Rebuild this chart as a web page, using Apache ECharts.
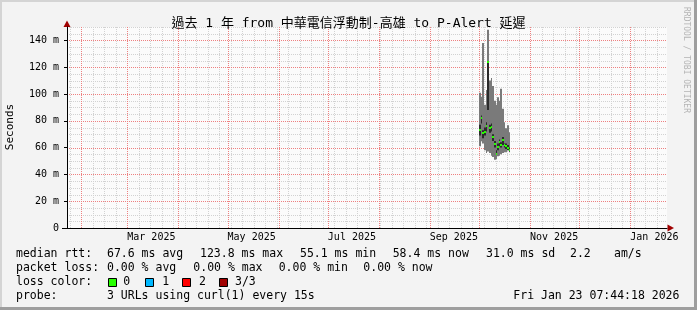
<!DOCTYPE html>
<html><head><meta charset="utf-8">
<script src="https://cdn.jsdelivr.net/npm/echarts@6/dist/echarts.min.js"></script>
<style>html,body{margin:0;padding:0;background:#f3f3f3}#c{width:697px;height:310px}</style>
</head><body><div id="c"></div>
<script>
// ---------------- data ----------------
const titleText = '過去 1 年 from 中華電信浮動制-高雄 to P-Alert 延遲';
const yAxisName = 'Seconds';
const sideText = 'RRDTOOL / TOBI OETIKER';
const monthNames = ['Jan','Feb','Mar','Apr','May','Jun','Jul','Aug','Sep','Oct','Nov','Dec'];
const yMajorTicks = [0, 20, 40, 60, 80, 100, 120, 140];
const yMinorStep = 5;
const yMax = 150;
const startTime = '2025-01-23T07:44:18';
const endTime = '2026-01-23T07:44:18';
const firstWeekLine = '2025-01-25T00:00:00';
const firstMonthLine = '2025-02-01T00:00:00';
const dataStart = '2025-10-01T00:00:00';
const stepHours = 24;
// smoke (ms) per column, from Oct 1 2025
const smokeMax = [101, 98, 138, 92, 103, 148, 110, 112, 106, 95, 92, 97.5, 95, 104, 89, 79, 74.5, 76.7, 71.5];
const smokeMin = [61, 65, 63, 58, 56, 57, 56, 54, 53, 51, 51.5, 53.6, 54, 55, 56, 56.6, 56.6, 58, 56.6];
const darkHi   = [77, 84, 73, 75, 79, 124, 77, 78, 70, 65, 58, 63, 66, 64, 68, 63, 63, 62, 60];
const darkLo   = [69, 78, 67, 69, 72, 88, 71, 72, 65, 60, 55, 58, 61, 60, 62, 60, 59, 58, 57];
const medianRtt = [73, 82, 70.7, 72, 76, 123.8, 74.5, 75.4, 68, 63, 55.1, 60.5, 64, 62, 65.5, 62, 61, 60, 58.4];
// legend
const medianStats = ['median rtt:', '67.6 ms avg', '123.8 ms max', '55.1 ms min', '58.4 ms now', '31.0 ms sd', '2.2', 'am/s'];
const lossStats = ['packet loss:', '0.00 % avg', '0.00 % max', '0.00 % min', '0.00 % now'];
const lossColorLabels = ['0', '1', '2', '3/3'];
const lossColors = ['#26ff00', '#00b8ff', '#ff0000', '#a00000'];
const probeText = ['probe:', '3 URLs using curl(1) every 15s'];
const stampText = 'Fri Jan 23 07:44:18 2026';

// ---------------- build ----------------
const MONO = "'DejaVu Sans Mono', 'Noto Sans CJK TC', monospace";
const T0 = new Date(startTime).getTime();
const T1 = new Date(endTime).getTime();
const D0 = new Date(dataStart).getTime();
const STEP = stepHours * 3600e3;
const times = smokeMax.map((_, i) => D0 + i * STEP);

const smokeData = times.map((t, i) => [t, smokeMin[i], smokeMax[i]]);
const darkData = times.map((t, i) => [t, darkLo[i], darkHi[i]]);
const medData = times.map((t, i) => [t, medianRtt[i]]);

const weekTicks = [];
for (let t = new Date(firstWeekLine); t.getTime() < T1; t.setDate(t.getDate() + 7)) weekTicks.push(t.getTime());
const monthTicks = [];
for (let d = new Date(firstMonthLine); d.getTime() < T1; d.setMonth(d.getMonth() + 1)) monthTicks.push(d.getTime());
const monthLabelTicks = monthTicks.filter(t => new Date(t).getMonth() % 2 === 0);
const yMinorTicks = [];
for (let v = yMinorStep; v <= yMax; v += yMinorStep) if (!yMajorTicks.includes(v)) yMinorTicks.push(v);

const MINOR_COLOR = '#d2d2d2';
const MAJOR_COLOR = '#ee8080';

function vLineRender(color) {
  return function (params, api) {
    const cs = params.coordSys;
    const x = Math.round(api.coord([api.value(0), 0])[0]) + 0.5;
    return { type: 'line', shape: { x1: x, y1: cs.y, x2: x, y2: cs.y + cs.height }, style: { stroke: color, lineWidth: 1, lineDash: [1, 1] } };
  };
}
function hLineRender(color) {
  return function (params, api) {
    const cs = params.coordSys;
    const y = Math.round(api.coord([T0, api.value(1)])[1]) + 0.5;
    return { type: 'line', shape: { x1: cs.x, y1: y, x2: cs.x + cs.width, y2: y }, style: { stroke: color, lineWidth: 1, lineDash: [1, 1] } };
  };
}
function rangeRender(color) {
  return function (params, api) {
    const t = api.value(0);
    const a = api.coord([t, api.value(2)]);
    const b = api.coord([t + STEP, api.value(1)]);
    const x0 = Math.round(a[0]), x1 = Math.round(b[0]);
    return { type: 'rect', shape: { x: x0, y: a[1], width: Math.max(1, x1 - x0), height: b[1] - a[1] }, style: { fill: color } };
  };
}

const chart = echarts.init(document.getElementById('c'), null, { renderer: 'canvas' });
const textCommon = { fontFamily: MONO, fill: '#000', fontSize: 11.5, verticalAlign: 'middle' };
const legendX1 = [16, 107, 200, 300, 392.7, 486, 570, 614];
const legendX2 = [16, 107, 193.3, 278.7, 363.3];
const graphics = [];
medianStats.forEach((s, i) => graphics.push({ type: 'text', x: legendX1[i], y: 254, style: Object.assign({ text: s }, textCommon) }));
lossStats.forEach((s, i) => graphics.push({ type: 'text', x: legendX2[i], y: 268, style: Object.assign({ text: s }, textCommon) }));
graphics.push({ type: 'text', x: 16, y: 282, style: Object.assign({ text: 'loss color:' }, textCommon) });
const boxX = [108.5, 145.5, 182.5, 219.5];
const lblX = [123.3, 162.3, 199, 235];
lossColorLabels.forEach((s, i) => {
  graphics.push({ type: 'rect', shape: { x: boxX[i], y: 278.5, width: 8, height: 8 }, style: { fill: lossColors[i], stroke: '#000', lineWidth: 1 } });
  graphics.push({ type: 'text', x: lblX[i], y: 282, style: Object.assign({ text: s }, textCommon) });
});
graphics.push({ type: 'text', x: 16, y: 296, style: Object.assign({ text: probeText[0] }, textCommon) });
graphics.push({ type: 'text', x: 107, y: 296, style: Object.assign({ text: probeText[1] }, textCommon) });
graphics.push({ type: 'text', x: 513.3, y: 296, style: Object.assign({ text: stampText }, textCommon) });
graphics.push({ type: 'text', x: 686, y: 60, rotation: -Math.PI / 2, style: { text: sideText, fontFamily: MONO, fontSize: 8, fill: '#b4b4b4', align: 'center', verticalAlign: 'middle' } });
graphics.push({ type: 'text', x: 10.5, y: 127, rotation: Math.PI / 2, style: { text: yAxisName, fontFamily: MONO, fontSize: 11, fill: '#000', align: 'center', verticalAlign: 'middle' } });
graphics.push({ type: 'polygon', shape: { points: [[67, 20.5], [63.5, 27], [70.5, 27]] }, style: { fill: '#a00000' } });
graphics.push({ type: 'polygon', shape: { points: [[674, 228], [667.5, 224.5], [667.5, 231.5]] }, style: { fill: '#a00000' } });
graphics.push({ type: 'line', shape: { x1: 62, y1: 228.5, x2: 67, y2: 228.5 }, style: { stroke: '#000', lineWidth: 1 } });
graphics.push({ type: 'rect', shape: { x: 0, y: 0, width: 697, height: 2 }, style: { fill: '#d4d4d4' } });
graphics.push({ type: 'rect', shape: { x: 0, y: 0, width: 2, height: 310 }, style: { fill: '#d4d4d4' } });
graphics.push({ type: 'rect', shape: { x: 0, y: 307, width: 697, height: 3 }, style: { fill: '#9e9e9e' } });
graphics.push({ type: 'rect', shape: { x: 694, y: 0, width: 3, height: 310 }, style: { fill: '#9e9e9e' } });

chart.setOption({
  animation: false,
  backgroundColor: '#f3f3f3',
  title: { text: titleText, left: 'center', top: 12, textStyle: { fontFamily: MONO, fontSize: 13, fontWeight: 'normal', color: '#000' } },
  grid: { left: 67, right: 30, top: 27, bottom: 82, show: true, backgroundColor: '#fbfbfb', borderWidth: 0 },
  xAxis: {
    type: 'value', min: T0, max: T1, position: 'bottom', z: 5, scale: true,
    axisLine: { lineStyle: { color: '#000', width: 1 } },
    axisTick: { show: false, customValues: monthTicks },
    splitLine: { show: false },
    axisLabel: {
      customValues: monthLabelTicks, hideOverlap: false,
      formatter: function (v) { const d = new Date(v); return monthNames[d.getMonth()] + ' ' + d.getFullYear(); },
      align: 'left', fontFamily: MONO, fontSize: 10, color: '#000', margin: 4
    }
  },
  yAxis: {
    type: 'value', min: 0, max: yMax, z: 5,
    axisLine: { show: true, lineStyle: { color: '#000', width: 1 } },
    axisTick: { show: true, length: 3, lineStyle: { color: '#000' }, customValues: yMajorTicks },
    splitLine: { show: false },
    axisLabel: {
      customValues: yMajorTicks,
      formatter: v => (v === 0 ? '0' : v + ' m'), fontFamily: MONO, fontSize: 10, color: '#000', margin: 8
    }
  },
  series: [
    { type: 'custom', name: 'week-grid', data: weekTicks.map(t => [t, 0]), renderItem: vLineRender(MINOR_COLOR), z: 1, silent: true, clip: false },
    { type: 'custom', name: 'minor-y-grid', data: yMinorTicks.map(v => [T0, v]), renderItem: hLineRender(MINOR_COLOR), z: 1, silent: true, clip: false },
    { type: 'custom', name: 'month-grid', data: monthTicks.map(t => [t, 0]), renderItem: vLineRender(MAJOR_COLOR), z: 2, silent: true, clip: false },
    { type: 'custom', name: 'major-y-grid', data: yMajorTicks.filter(v => v > 0).map(v => [T0, v]), renderItem: hLineRender(MAJOR_COLOR), z: 2, silent: true, clip: false },
    { type: 'custom', name: 'smoke', data: smokeData, renderItem: rangeRender('#7a7a7a'), z: 3, silent: true },
    { type: 'custom', name: 'smoke-dark', data: darkData, renderItem: rangeRender('#2b2b2b'), z: 4, silent: true },
    {
      type: 'custom', name: 'median', data: medData, z: 5, silent: true,
      renderItem: function (params, api) {
        const t = api.value(0);
        const a = api.coord([t, api.value(1)]);
        const b = api.coord([t + STEP, api.value(1)]);
        const x0 = Math.round(a[0]), x1 = Math.round(b[0]);
        return { type: 'rect', shape: { x: x0, y: Math.round(a[1]) - 1, width: Math.max(1, x1 - x0), height: 2 }, style: { fill: lossColors[0] } };
      }
    }
  ],
  graphic: graphics
});
</script></body></html>
